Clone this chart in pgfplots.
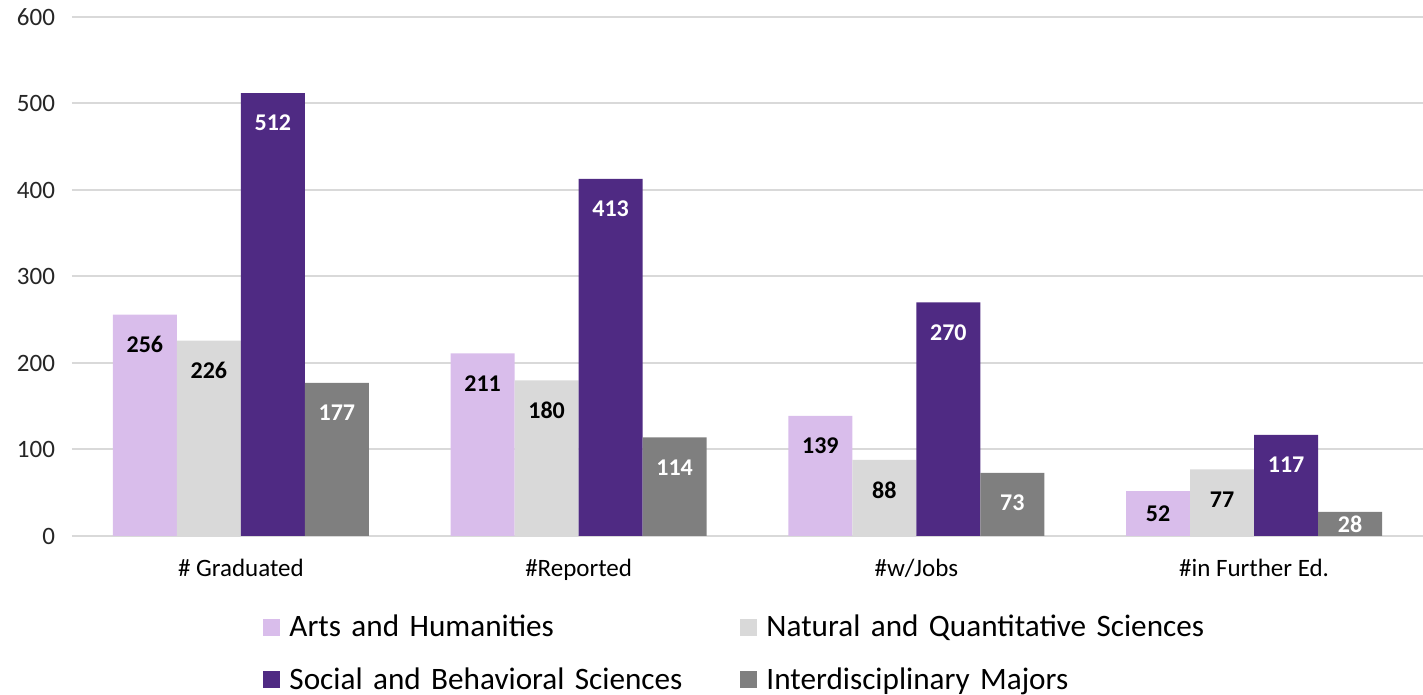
\documentclass[border=0pt]{standalone}
\usepackage{pgfplots}
\pgfplotsset{compat=1.18}
\usepackage{fontspec}
\setmainfont{Carlito}
\definecolor{arts}{HTML}{D9BDEB}
\definecolor{nat}{HTML}{D9D9D9}
\definecolor{soc}{HTML}{4F2A83}
\definecolor{inter}{HTML}{7F7F7F}
\definecolor{gridc}{HTML}{D9D9D9}
\definecolor{tickc}{HTML}{262626}
\begin{document}
\begin{tikzpicture}
\begin{axis}[
  name=ax,
  scale only axis,
  width=675.5pt, height=259.5pt,
  ybar=0pt, bar width=32pt,
  xmin=-0.5, xmax=3.5, ymin=0, ymax=600,
  xtick=data,
  xticklabels={\# Graduated,\#Reported,\#w/Jobs,\#in Further Ed.},
  ytick={0,100,...,600},
  ymajorgrids,
  grid style={gridc, line width=1pt},
  axis line style={draw=none},
  major tick length=0pt,
  /pgf/number format/assume math mode=true,
  tick label style={font=\fontsize{12.5}{14}\selectfont, text=tickc},
  yticklabel style={xshift=-5pt},
  xticklabel style={yshift=-8pt, text=black},
  clip=false,
  nodes near coords,
  visualization depends on={rawy \as \rawy},
  every node near coord/.append style={font=\fontsize{12}{14}\selectfont\bfseries, anchor=center,
     yshift={-min(15,0.21625*\rawy)}},
  legend columns=2,
  legend style={draw=none, fill=none, at={(axis description cs:0.137,-0.136)}, anchor=north west,
     font=\fontsize{15.6}{18}\selectfont, row sep=10pt,
     nodes={text width=221pt, align=left, inner xsep=4.5pt}},
  legend image code/.code={\fill[#1,draw=none] (0pt,-4.25pt) rectangle (8.5pt,4.25pt);},
]
\addplot[fill=arts, draw=none, every node near coord/.append style={text=black}] coordinates {(0,256) (1,211) (2,139) (3,52)};
\addplot[fill=nat, draw=none, every node near coord/.append style={text=black}] coordinates {(0,226) (1,180) (2,88) (3,77)};
\addplot[fill=soc, draw=none, every node near coord/.append style={text=white}] coordinates {(0,512) (1,413) (2,270) (3,117)};
\addplot[fill=inter, draw=none, every node near coord/.append style={text=white}] coordinates {(0,177) (1,114) (2,73) (3,28)};
\legend{Arts and Humanities, Natural and Quantitative Sciences, Social and Behavioral Sciences, Interdisciplinary Majors}
\end{axis}
\pgfresetboundingbox
\path ([shift={(-36pt,-79.5pt)}]ax.south west) rectangle ([shift={(0pt,8.5pt)}]ax.north east);
\end{tikzpicture}
\end{document}
